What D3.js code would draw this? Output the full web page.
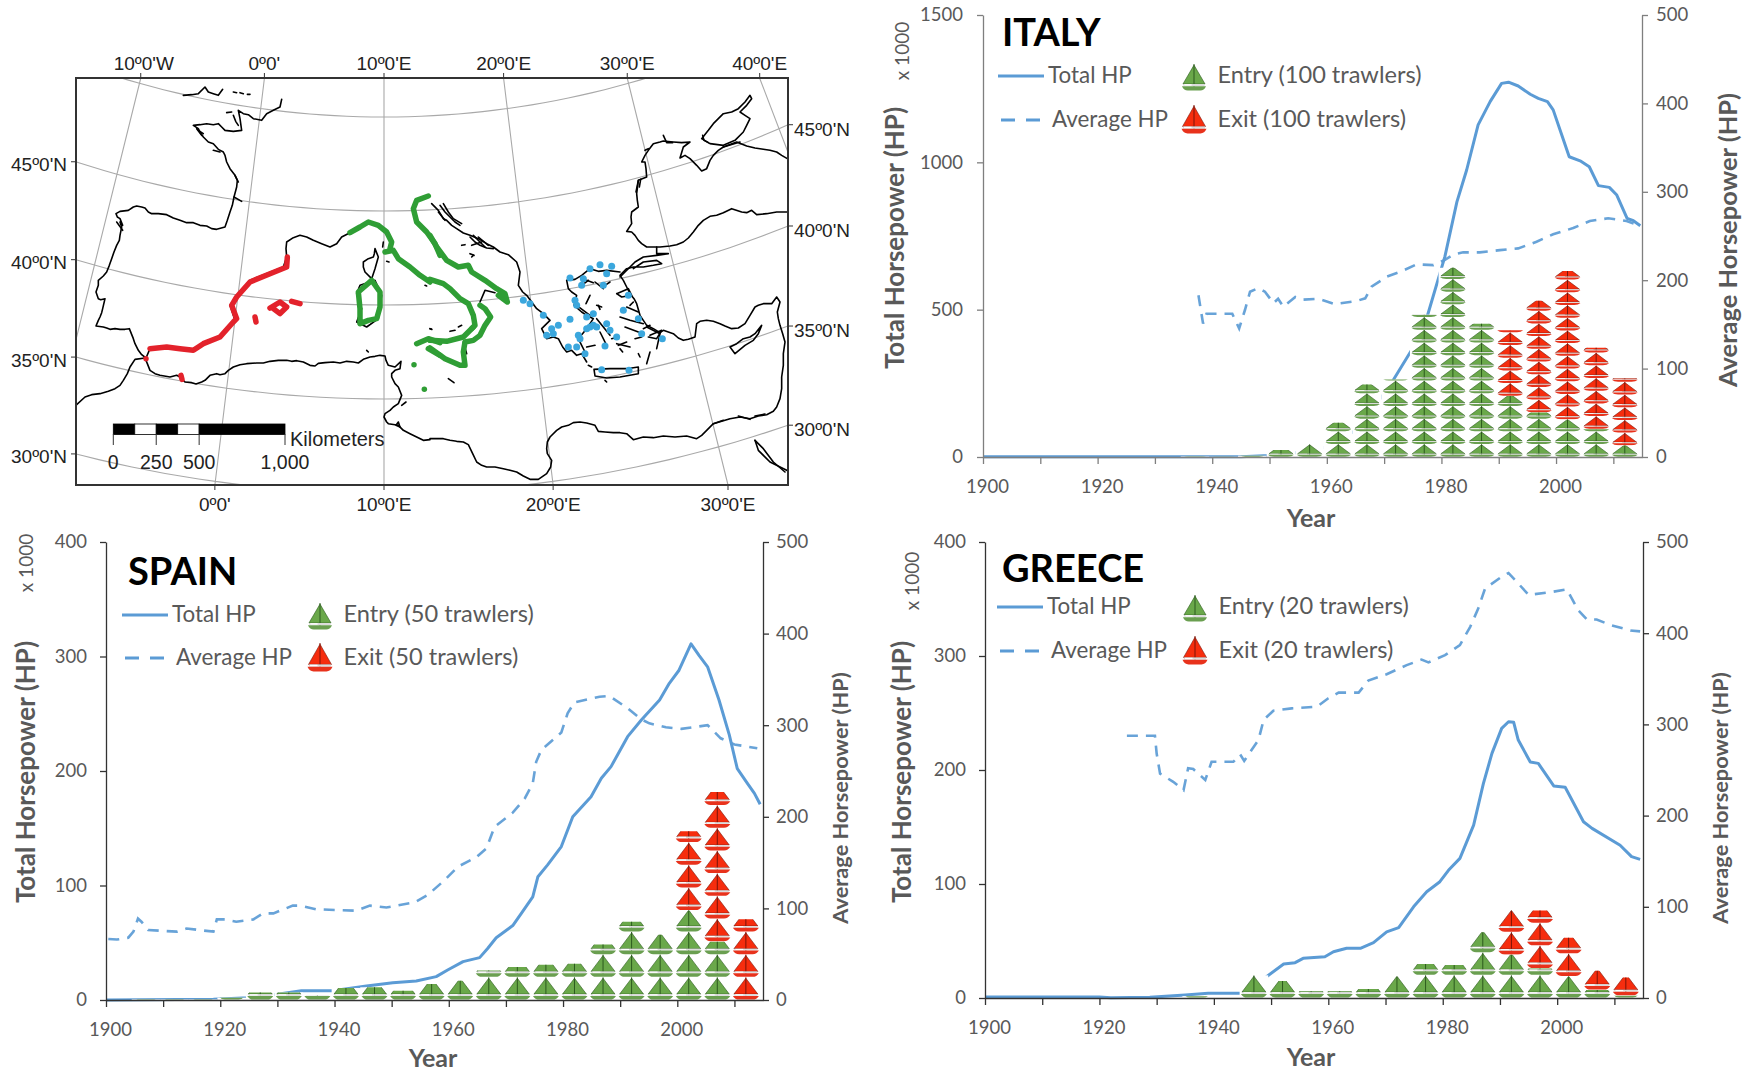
<!DOCTYPE html>
<html><head><meta charset="utf-8">
<script src="https://cdn.jsdelivr.net/npm/d3@7"></script>
<style>
html,body{margin:0;padding:0;background:#fff}
svg{display:block}
text{font-family:Lato,"Open Sans",sans-serif}
.map text{font-family:"Liberation Sans",Arial,sans-serif;fill:#222}
.ax text{fill:#595959;font-size:18.5px;font-family:Lato,sans-serif}
</style></head><body>
<svg id="s" width="1750" height="1075"></svg>
<script>
// ---------- chart data ----------
const binYears=[1907,1912,1917,1922,1927,1932,1937,1942,1947,1952,1957,1962,1967,1972,1977,1982,1987,1992,1997,2002,2007,2012];
const italyEntry=[0,0,0,0,0,0,.04,.02,.1,.55,1,2.7,5.7,6.1,11.2,14.9,10.5,4.8,3.5,2.95,2.2,.9];
const italyExit=[0,0,0,0,0,0,0,0,0,0,0,0,0,0,0,0,0,5.2,8.8,11.7,6.4,5.3];
const spainEntry=[.03,.03,.03,.1,.33,.33,.2,.53,.56,.41,.7,.85,1.3,1.45,1.55,1.6,2.45,3.45,2.87,3.94,2.57,0];
const spainExit=[0,0,0,0,0,0,0,0,0,0,0,0,0,0,0,0,0,0,0,3.49,6.59,3.56];
const greeceEntry=[0,0,0,0,0,0,.08,0,1,.75,.3,.3,.4,.95,1.5,1.45,2.9,1.9,1.3,.95,.35,.1];
const greeceExit=[0,0,0,0,0,0,0,0,0,0,0,0,0,0,0,0,0,1.95,2.55,1.7,.85,.8];

const italyTotal=[[1900,1],[1940,1],[1945,1],[1950,5],[1955,15],[1960,35],[1965,90],[1970,215],[1971.6,261],[1974.8,363],[1977.5,476],[1980.6,680],[1982.7,866],[1984.4,974],[1986.4,1127],[1988.5,1206],[1990.5,1268],[1991.7,1272],[1993.4,1259],[1995.5,1231],[1996.9,1217],[1998.5,1206],[1999.5,1178],[2001,1093],[2002.3,1019],[2004.2,1005],[2005.8,985],[2007.4,921],[2009.3,915],[2010.6,889],[2012.4,810],[2013.5,802],[2014.7,785]];
const italyAverage=[[1937.6,183],[1938.4,151],[1939,162],[1943.5,162],[1944.7,145.5],[1945.7,166],[1946.6,187],[1948,191],[1949.2,187],[1950.7,174],[1951.5,179],[1952.4,170],[1954.5,181],[1955.9,178],[1958.5,179],[1961.4,173],[1965.2,176.5],[1966.7,179.5],[1967.8,192.6],[1970.5,204],[1973,210],[1975.7,218],[1978.6,217],[1980.6,223],[1982.1,229],[1983.8,231.5],[1986.7,231.5],[1990.2,234],[1993.4,236],[1996.6,243.5],[1999.5,252],[2003,259],[2005.9,267],[2009.1,270],[2012.3,267],[2014.7,261.6]];
const spainTotal=[[1900,0],[1918.8,.6],[1925,2],[1930,5],[1934.2,8.1],[1939.7,8.1],[1945.6,12.2],[1950.2,15.1],[1954.3,16.6],[1957.8,20.4],[1959.8,26.2],[1962.5,33.5],[1965.4,37],[1966.8,45],[1968.3,54.4],[1971.2,65],[1972.7,75.7],[1974.7,90],[1975.6,107.7],[1977.3,118],[1979.7,134],[1981.7,160],[1984.9,177.6],[1986.7,193.6],[1988.4,203.8],[1991.3,230],[1993.7,244.6],[1996.9,262],[1998.6,276.6],[2000.3,288],[2002.4,311],[2003.8,301],[2005.3,291],[2007.3,262],[2009.1,231.5],[2010.5,202],[2012.3,189],[2013.5,180.5],[2014.5,171]];
const spainAverage=[[1900.4,66.6],[1901.9,66],[1903.9,68],[1904.8,74.6],[1905.6,89],[1906.2,85.5],[1907.4,76.4],[1912.4,74.6],[1914.1,78],[1918.8,74.6],[1919.4,88],[1920.8,88],[1922.8,85.5],[1925.8,88],[1927.5,94.6],[1929.3,94.6],[1932.7,103],[1933.9,103],[1936.8,99],[1943.8,97.5],[1946.2,103],[1949.1,101],[1954,106.6],[1956.3,114.6],[1959.3,131],[1961.6,145.5],[1964.8,155.8],[1966.6,165.6],[1968,189],[1971.2,204.5],[1973.3,220],[1974.7,236.6],[1975.3,260],[1976.2,273],[1979.7,292],[1980.8,313],[1982,325],[1986.4,331],[1988.1,332],[1991.3,318.5],[1993.7,306.4],[1995.1,302],[1998,297.7],[2000.7,296],[2005.3,300],[2007.6,285.7],[2010,279],[2014,274.8]];
const greeceTotal=[[1900,.8],[1920,.8],[1922,.2],[1928.8,.6],[1935,2.6],[1939,4.1],[1945.2,4.1],[1949.2,18.7],[1952.2,29.8],[1954.2,31],[1955.6,34.8],[1959.4,36.2],[1960.9,40.6],[1963.2,43.6],[1965.6,43.6],[1967.9,48.5],[1970.2,58],[1972.3,61.7],[1974.9,80],[1977.2,93.2],[1979.5,102],[1981,112],[1983,122.5],[1985.4,151.7],[1987.1,188],[1988.6,214.6],[1990.3,236.5],[1991.5,242.3],[1992.4,241.8],[1993.2,226.3],[1995.3,207],[1996.7,205.8],[1999.4,186],[2001.4,184.8],[2004.6,154.6],[2006.1,148.8],[2011,134],[2013,124],[2014.5,121.6]];
const greeceAverage=[[1924.8,287.6],[1929.7,287.6],[1930,268],[1930.6,246],[1932.9,237],[1934.7,228],[1935.5,252],[1936.4,251],[1938.5,239],[1939.6,259],[1943.4,259],[1944.6,267],[1945.3,260],[1947.8,283],[1948.7,305],[1950.4,315],[1953.6,317.6],[1958,319.4],[1960,328.6],[1961.8,334.8],[1965.3,334.8],[1967,348],[1970.2,355],[1973.7,365],[1976.3,371],[1977.5,368],[1980.4,376],[1983,387],[1984.8,407],[1986.2,427],[1987.4,449],[1990.3,462],[1991.5,466],[1992.7,458],[1995,442],[1998.8,445],[2001.7,448],[2003.7,425],[2005.2,415],[2006.9,415],[2009.3,409],[2012.8,403],[2014.5,402]];

const yearTicks=[1900,1910,1920,1930,1940,1950,1960,1970,1980,1990,2000,2010];
const italyLeftTicks=[0,500,1000,1500], otherLeftTicks=[0,100,200,300,400], rightTicks=[0,100,200,300,400,500];

// ---------- map data (map grid; west sheet / east sheet) ----------
const coastWest=[
 [[20,998],[45,975],[65,968],[90,965],[115,958],[135,950],[150,940],[160,925],[172,905],[180,885],[195,862],[225,858],[232,875],[240,895],[255,905],[270,910],[300,915],[320,910],[330,915],[345,930],[365,932],[378,936],[395,930],[405,925],[420,910],[440,905],[450,908],[465,905],[475,895],[490,885],[510,878],[530,875],[560,873],[580,873],[600,868],[625,865],[650,865],[665,868],[680,866],[700,870],[720,880],[735,882],[745,874],[765,872],[790,870],[810,873],[830,868],[850,870],[865,873],[880,862],[900,855],[915,853],[930,850],[945,852],[948,865],[955,880],[975,885],[993,868],[990,890],[975,895],[965,905],[965,915],[975,935],[985,945],[995,970],[985,995],[970,1005],[960,1015],[945,1025],[942,1035],[950,1050],[955,1055],[985,1060],[1000,1075],[1020,1085],[1040,1095],[1060,1105],[1080,1103]],
 [[228,858],[215,848],[205,835],[195,815],[190,800],[178,770],[165,772],[150,772],[135,770],[120,772],[110,768],[100,765],[78,762],[85,745],[90,735],[95,722],[98,710],[105,680],[92,683],[85,680],[78,660],[85,640],[85,625],[100,612],[110,600],[118,580],[125,560],[132,540],[140,520],[148,505],[150,490],[155,465],[150,450],[158,460],[150,440],[142,435],[138,425],[150,418],[175,415],[190,405],[200,402],[215,405],[225,408],[235,420],[245,425],[265,425],[290,428],[310,438],[330,445],[350,452],[370,452],[390,460],[410,462],[425,470],[440,472],[465,465],[472,445],[480,420],[487,400],[492,375],[500,345],[502,325],[495,310],[480,290],[470,270],[465,250],[460,240],[445,232],[430,215],[415,210],[400,195],[390,180],[385,170],[370,160],[390,158],[410,155],[430,158],[445,155],[455,165],[465,175],[490,178],[515,175],[510,140],[505,115],[520,125],[535,128],[550,140],[575,145],[590,125],[610,115],[630,105],[635,82]],
 [[492,375],[515,388]],
 [[340,70],[365,68],[385,65],[405,45],[415,60],[430,65],[445,70],[458,52]],
 [[490,60],[500,62]],[[510,62],[520,65]],[[532,67],[540,67]],
 [[470,122],[485,120]],[[490,130],[497,148],[505,160]],[[385,175],[400,185]],[[430,235],[450,240]],[[380,170],[395,190]],[[495,310],[505,330]],[[140,450],[158,475]],
 [[228,858],[240,830],[290,825],[370,835],[400,815],[450,795],[495,745],[480,700],[500,670],[540,625],[640,585],[650,555],[648,530],[650,510],[670,497],[690,490],[710,495],[730,505],[755,515],[780,525],[800,515],[815,495],[840,482]],
 [[915,530],[913,545],[910,555],[895,560],[880,570],[880,585],[885,600],[905,620],[915,590],[925,555],[915,530]],
 [[870,640],[860,665],[875,710],[860,750],[890,765],[925,740],[935,670],[915,625],[870,640]],
 [[985,1050],[978,1060],[990,1065],[985,1050]],[[995,1000],[1008,990]],
 [[890,835],[895,840]],[[1080,770],[1085,772]],[[940,510],[938,525]],[[950,568],[957,570]],[[1065,640],[1070,642]]
];
const coastEast=[
 [[0,1100],[40,1100],[60,1105],[80,1108],[100,1110],[115,1118],[128,1145],[140,1170],[155,1180],[170,1185],[195,1185],[220,1190],[240,1195],[260,1200],[280,1212],[300,1222],[325,1222],[350,1205],[362,1185],[365,1165],[352,1145],[350,1130],[352,1110],[360,1095],[380,1075],[395,1065],[415,1060],[430,1052],[450,1050],[470,1053],[495,1060],[505,1078],[525,1080],[550,1082],[570,1082],[590,1085],[610,1103],[640,1095],[670,1097],[700,1092],[735,1095],[770,1092],[800,1100],[815,1090],[830,1075],[850,1055],[875,1048],[900,1040],[930,1035],[960,1040],[985,1032],[1010,1028],[1030,1018],[1040,1005],[1050,980],[1055,950],[1055,915],[1060,880],[1060,845],[1065,810],[1058,785],[1050,760],[1045,740],[1042,720],[1050,690],[1040,675],[1025,695],[1000,695],[985,700],[975,705],[960,730],[945,755],[925,768],[905,770],[885,762],[870,755],[850,748],[830,745],[810,748],[800,755],[795,795],[775,802],[760,805],[745,798],[730,785],[700,775],[690,782],[670,770],[650,760],[640,745],[630,730],[620,695],[612,680],[600,665],[590,645],[580,625],[570,610],[590,590],[610,585],[640,585],[670,580],[695,575],[680,565],[640,570],[610,590]],
 [[570,615],[585,600],[615,570],[640,555],[680,550],[715,545],[680,545],[680,525]],
 [[1072,420],[1040,420],[1010,425],[980,428],[965,415],[950,422],[935,420],[905,410],[880,422],[860,430],[840,433],[820,445],[805,460],[790,480],[775,498],[760,510],[740,518],[720,522],[690,525],[650,525],[635,515],[625,505],[615,490],[605,480],[590,478],[605,455],[603,435],[605,420],[625,405],[622,385],[620,365],[625,325],[650,315],[648,290],[645,270],[635,270],[645,250],[655,235],[670,215],[690,210],[700,207],[730,210],[755,212],[780,210],[760,225],[750,258],[765,250],[780,260],[800,280],[815,297],[830,290],[840,265],[850,250],[865,235],[880,225],[920,210],[950,222],[975,228],[1000,232],[1020,235],[1040,240],[1055,250],[1072,260]],
 [[815,200],[835,175],[850,155],[865,140],[880,125],[905,120],[925,110],[945,90],[960,70],[965,80],[950,100],[930,120],[945,130],[960,140],[950,160],[940,180],[915,205],[880,220],[840,215],[815,200]],
 [[818,190],[822,205],[835,212]],[[700,190],[710,212],[728,212]],[[625,325],[618,360]],[[632,322],[628,345]],[[930,210],[880,225]],[[645,235],[655,230]],
 [[975,1105],[985,1135],[1020,1170],[1070,1195]],[[975,1105],[1000,1130],[1030,1170],[1065,1200]],
 [[900,825],[920,815],[940,800],[960,795],[975,785],[995,760],[985,785],[970,805],[945,820],[915,845],[900,825]],
 [[492,892],[495,912],[530,918],[570,915],[625,905],[625,885],[590,890],[540,890],[492,892]],
 [[850,1055],[880,1045]],[[925,1032],[960,1042]],[[975,1032],[1005,1026]],
 [[5,395],[25,415],[40,440],[50,445],[65,460],[80,470],[100,483],[120,490],[145,500],[170,515],[190,525],[210,540],[235,548],[260,570],[270,600],[265,640],[278,660],[290,670],[305,690],[320,710],[340,725],[360,745],[335,770],[350,800],[370,795],[385,800],[398,825],[410,840],[425,835],[440,850],[455,845],[470,870]],
 [[30,400],[45,420],[60,435],[75,450],[90,460]],[[40,395],[55,420],[70,440],[95,455]],[[25,420],[45,445]],[[120,495],[135,510],[150,520],[170,528],[190,530]],[[130,490],[150,510],[165,525]],[[145,495],[175,520]],
 [[465,840],[455,820],[445,800],[470,770],[490,740],[470,730],[455,720],[432,700],[440,670],[425,660],[415,650],[410,625],[435,622],[455,610],[480,590],[505,598],[530,595],[570,600]],
 [[470,625],[490,632]],[[455,640],[475,625]],[[480,670],[468,695]],[[500,700],[515,705]],[[560,665],[595,650],[605,670],[575,675],[560,665]],[[590,705],[625,720]],[[600,700],[610,690]],[[570,735],[600,745],[640,755]],[[510,780],[530,820]],[[650,765],[690,785],[680,830]],[[660,790],[695,775],[680,800],[655,795]],[[560,815],[600,825]],[[625,845],[630,855]],[[660,840],[650,875]],[[525,925],[530,930]],[[475,880],[485,885]],[[495,630],[520,650]],[[440,700],[480,730]],[[500,740],[540,790]],[[585,765],[625,780]],[[525,640],[540,630]],[[565,820],[590,810]],[[470,825],[495,820]],[[570,830],[578,840]],[[615,800],[635,795]],[[640,770],[660,760]],[[545,800],[565,795]],[[505,700],[510,712]],
 [[150,690],[165,655],[195,662]],[[100,810],[110,845]],[[55,920],[72,932]],
 [[95,520],[105,518]],[[125,520],[155,510]],[[120,545],[132,550]],[[60,778],[75,775]],[[85,765],[95,760]],[[0,770],[5,772]],[[125,555],[130,550]]
];
const greenWest=[
 [[840,482],[870,465],[895,450],[925,460],[950,480],[965,510],[960,530]],
 [[945,540],[970,535],[985,560],[1020,585],[1050,610],[1080,630]],
 [[905,625],[930,660],[930,705],[920,740],[895,745],[870,755],[870,710],[865,660],[905,625]],
 [[1075,372],[1040,385],[1030,410],[1040,450],[1070,480],[1095,515],[1110,550]],
 [[1040,815],[1075,800],[1110,812]],[[1075,830],[1110,850]],
 [[1032,878],[1032,878]],[[1063,952],[1063,952]]
];
const greenEast=[
 [[0,490],[20,525],[50,565],[85,585],[115,580],[125,600],[165,625],[200,650],[225,665],[232,690],[205,670]],
 [[0,622],[40,635],[60,650],[90,680],[115,695],[130,730],[135,760],[125,770]],
 [[150,700],[165,710],[182,735],[165,760],[150,790],[130,805],[105,810],[100,840],[105,880],[90,880],[45,860],[0,828]],
 [[0,805],[50,808],[100,795],[130,765]]
];
const redWest=[
 [[240,830],[290,825],[330,830],[370,835],[400,815],[450,795],[490,750],[500,740],[485,700],[500,675],[540,630],[600,605],[650,585],[652,555]],
 [[600,708],[630,690],[650,705],[630,725],[610,710]],[[665,688],[690,695]],[[555,735],[558,750]],
 [[228,860],[228,860]],[[333,910],[336,922]]
];
const blueEast=[[280,685],[300,695],[340,730],[365,770],[350,790],[385,760],[420,742],[415,825],[440,825],[465,845],[445,790],[470,770],[490,760],[450,800],[470,735],[490,725],[435,685],[420,618],[460,620],[480,590],[510,578],[545,583],[530,605],[520,640],[595,670],[580,715],[625,740],[635,785],[560,795],[540,775],[530,755],[525,822],[697,800],[515,893],[597,895],[480,765],[500,765],[455,640],[440,700],[370,785]];
const meridianTop=[-10,0,10,20,30,40], meridianBottom=[0,10,20,30], parallelLabels=[45,40,35,30];
const scaleBarKm=[0,125,250,375,500,1000], scaleBarTicks=[0,250,500,1000], scaleBarLabels=["0","250","500","1,000"];

// ---------- map ----------
const svg=d3.select("#s");
const defs=svg.append("defs");
const frame={x0:76,y0:78,x1:788,y1:485};
const mapG=svg.append("g").attr("class","map");
const n=.738,G=1.8207,rho0=1.035,kx=.94;
const raw=(l,p)=>{const r=G-p,a=n*l;return [kx*r*Math.sin(a),rho0-r*Math.cos(a)];};
const proj=d3.geoProjection(raw).rotate([-10,0]).center([0,45]).scale(1077).translate([384,211]).precision(.3);
const projClip=d3.geoProjection(raw).rotate([-10,0]).center([0,45]).scale(1077).translate([384,211]).precision(.3)
   .clipExtent([[frame.x0,frame.y0],[frame.x1,frame.y1]]);
mapG.append("path").datum(d3.geoGraticule().extent([[-40,20],[70.01,60.01]]).step([10,5]).precision(1)())
  .attr("d",d3.geoPath(projClip)).attr("fill","none").attr("stroke","#a9a9a9").attr("stroke-width",1.1);

const mx1=d3.scaleLinear([0,1110],[70,440]), mx2=d3.scaleLinear([0,1110],[430,800]), my=d3.scaleLinear([0,1260],[72,492]);
const lineW=d3.line(d=>mx1(d[0]),d=>my(d[1])), lineE=d3.line(d=>mx2(d[0]),d=>my(d[1]));
const polys=(data,gen,color,w)=>mapG.append("g").selectAll("path").data(data).join("path").attr("d",gen)
   .attr("fill","none").attr("stroke",color).attr("stroke-width",w).attr("stroke-linecap","round").attr("stroke-linejoin","round");
polys(coastWest,lineW,"#000",1.6); polys(coastEast,lineE,"#000",1.6);
polys(greenWest,lineW,"#2f9e35",5.5); polys(greenEast,lineE,"#2f9e35",5.5);
polys(redWest,lineW,"#e3222b",5.5);
mapG.append("g").selectAll("circle").data(blueEast).join("circle").attr("cx",d=>mx2(d[0])).attr("cy",d=>my(d[1])).attr("r",3.5).attr("fill","#3ba7dd");
mapG.append("rect").attr("x",frame.x0).attr("y",frame.y0).attr("width",frame.x1-frame.x0).attr("height",frame.y1-frame.y0)
  .attr("fill","none").attr("stroke","#333").attr("stroke-width",2);

// graticule labels sit where the lines meet the frame
const crossLat=(lon,test)=>{for(let la=70;la>10;la-=.02){const p=proj([lon,la]);if(test(p))return p;}return null;};
const crossLon=(lat,from,to,test)=>{const st=from<to?.02:-.02;for(let lo=from;st>0?lo<to:lo>to;lo+=st){const p=proj([lo,lat]);if(test(p))return p;}return null;};
const lonLabel=d=>d===0?"0º0'":Math.abs(d)+"º0'"+(d<0?"W":"E"), latLabel=d=>d+"º0'N";
const tick=(x1,y1,x2,y2)=>mapG.append("line").attr("x1",x1).attr("y1",y1).attr("x2",x2).attr("y2",y2).attr("stroke","#333").attr("stroke-width",1);
const mt=(x,y,t,a,dx=0)=>mapG.append("text").attr("x",x+dx).attr("y",y).attr("text-anchor",a).attr("font-size",19).text(t);
meridianTop.forEach(d=>{const p=crossLat(d,p=>p[1]>=frame.y0);tick(p[0],frame.y0,p[0],frame.y0-5);mt(p[0],70,lonLabel(d),"middle",d<0?3:0);});
meridianBottom.forEach(d=>{const p=crossLat(d,p=>p[1]>=frame.y1);tick(p[0],frame.y1,p[0],frame.y1+5);mt(p[0],511,lonLabel(d),"middle");});
parallelLabels.forEach(d=>{
  const l=crossLon(d,10,-60,p=>p[0]<=frame.x0), r=crossLon(d,10,60,p=>p[0]>=frame.x1);
  tick(frame.x0,l[1],frame.x0-5,l[1]); mt(67,l[1]+9.5,latLabel(d),"end");
  tick(frame.x1,r[1],frame.x1+5,r[1]); mt(794,r[1]+11,latLabel(d),"start");
});
// scale bar
const km=d3.scaleLinear([0,1000],[113.3,285]);
d3.pairs(scaleBarKm).forEach(([a,b],i)=>mapG.append("rect").attr("x",km(a)).attr("y",424).attr("width",km(b)-km(a)).attr("height",10.5)
   .attr("fill",i%2?"#fff":"#000").attr("stroke","#000").attr("stroke-width",.8));
scaleBarTicks.forEach((d,i)=>{tick(km(d),434,km(d),445);
  mapG.append("text").attr("x",km(d)).attr("y",469).attr("text-anchor","middle").attr("font-size",19.5).text(scaleBarLabels[i]);});
mapG.append("text").attr("x",290).attr("y",446).attr("font-size",20).text("Kilometers");

// ---------- boats ----------
function boatDef(id,fill,dark,hull){
  const g=defs.append("g").attr("id",id);
  const ve=s=>s.attr("vector-effect","non-scaling-stroke");
  ve(g.append("path").attr("d","M0,.04L-.46,.74L.46,.74Z").attr("fill",fill).attr("stroke",dark).attr("stroke-width",.6));
  ve(g.append("path").attr("d","M0,0L0,.84").attr("stroke",dark).attr("stroke-width",1).attr("fill","none"));
  g.append("rect").attr("x",-.44).attr("y",.74).attr("width",.88).attr("height",.08).attr("fill","#dcdcdc");
  g.append("rect").attr("x",-.4).attr("y",.75).attr("width",.3).attr("height",.05).attr("fill","#fff");
  g.append("path").attr("d","M-.5,.82L.5,.82Q.42,.98 .26,.98L-.26,.98Q-.42,.98 -.5,.82Z").attr("fill",hull);
}
boatDef("boat-entry","#6aa84a","#2c5a1e","#6a9f50");
boatDef("boat-exit","#f62d0e","#7a1408","#e8321c");
let clipId=0;
function stack(g,cx,baseY,count,unit,w,kind){
  if(count<=0)return;
  const id="c"+(clipId++);
  defs.append("clipPath").attr("id",id).append("rect").attr("x",cx-w).attr("y",baseY-count*unit).attr("width",2*w).attr("height",count*unit);
  const h=g.append("g").attr("clip-path","url(#"+id+")");
  d3.range(Math.ceil(count)).forEach(i=>h.append("use").attr("href","#"+kind)
     .attr("transform","translate("+cx+","+(baseY-(i+1)*unit)+") scale("+w+","+unit+")"));
}

// ---------- charts ----------
const blue="#5b9bd5", ink="#595959";
function chart(c){
  const x=d3.scaleLinear([1900,2015],[c.x0,c.x1]);
  const yL=d3.scaleLinear([0,c.leftMax],[c.y0,c.y1]), yR=d3.scaleLinear([0,500],[c.y0,c.y1]);
  const g=svg.append("g");
  const lineL=d3.line(d=>x(d[0]),d=>yL(d[1])), lineR=d3.line(d=>x(d[0]),d=>yR(d[1]));
  g.append("path").attr("d",lineL(c.total)).attr("fill","none").attr("stroke",blue).attr("stroke-width",3).attr("stroke-linejoin","round");
  g.append("path").attr("d",lineR(c.avg)).attr("fill","none").attr("stroke",blue).attr("stroke-opacity",.92).attr("stroke-width",2.6).attr("stroke-dasharray","11,8");
  // stacks of boats, opaque like the pictures they copy
  const bars=g.append("g");
  binYears.forEach((yr,i)=>{
    const e=c.entry[i],ex=c.exit[i],cx=x(yr);
    if(e+ex<=0)return;
    bars.append("rect").attr("x",cx-14.3).attr("y",c.y0-(e+ex)*c.unit).attr("width",28.6).attr("height",(e+ex)*c.unit).attr("fill","#fff");
    stack(bars,cx,c.y0,e,c.unit,26,"boat-entry");
    stack(bars,cx,c.y0-e*c.unit,ex,c.unit,26,"boat-exit");
  });
  // axes
  const ax=(sel)=>{sel.attr("class","ax");sel.selectAll("path,line").attr("stroke",c.axis).attr("stroke-width",1.3);};
  g.append("g").attr("transform","translate(0,"+c.y0+")")
    .call(d3.axisBottom(x).tickValues(yearTicks).tickSize(7).tickSizeOuter(0).tickPadding(16).tickFormat(d=>d%20===0?d:""))
    .call(ax).selectAll("text").attr("dx",4);
  g.append("g").attr("transform","translate("+c.x0+",0)")
    .call(d3.axisLeft(yL).tickValues(c.leftTicks).tickFormat(d3.format("d")).tickSize(6).tickSizeOuter(0).tickPadding(c.padL)).call(ax);
  g.append("g").attr("transform","translate("+c.x1+",0)")
    .call(d3.axisRight(yR).tickValues(rightTicks).tickFormat(d3.format("d")).tickSize(6).tickSizeOuter(0).tickPadding(c.padR)).call(ax);
  const rot=(px,py,t,size,w)=>g.append("text").attr("transform","translate("+px+","+py+") rotate(-90)").attr("text-anchor","middle")
     .attr("fill",ink).attr("font-size",size).attr("font-weight",w).text(t);
  rot(c.totX,c.totY,"Total Horsepower (HP)",26,700);
  rot(c.avgX,c.avgY,"Average Horsepower (HP)",c.avgSize,700);
  rot(c.kX,c.kY,"x 1000",19,400);
  g.append("text").attr("x",c.yrX).attr("y",c.yrY).attr("text-anchor","middle").attr("fill",ink).attr("font-size",25).attr("font-weight",700).text("Year");
  g.append("text").attr("x",c.titleX).attr("y",c.titleY).attr("fill","#000").attr("font-size",38).attr("font-weight",700).text(c.title);
  // legend
  const L=c.leg;
  const lt=(px,py,t,s)=>g.append("text").attr("x",px).attr("y",py+7).attr("fill",ink).attr("font-size",s).text(t);
  g.append("line").attr("x1",L.lx0).attr("x2",L.lx0+46).attr("y1",L.y1).attr("y2",L.y1).attr("stroke",blue).attr("stroke-width",3);
  lt(L.lx0+50,L.y1,"Total HP",22.4);
  g.append("line").attr("x1",L.lx0+3).attr("x2",L.lx0+42).attr("y1",L.y2).attr("y2",L.y2).attr("stroke",blue).attr("stroke-width",3).attr("stroke-dasharray","14,11");
  lt(L.lx0+54,L.y2,"Average HP",22.4);
  g.append("use").attr("href","#boat-entry").attr("transform","translate("+L.bx+","+(L.y1-12)+") scale(24,27)");
  g.append("use").attr("href","#boat-exit").attr("transform","translate("+L.bx+","+(L.y2-15)+") scale(25,29)");
  lt(L.bx+23.5,L.y1,"Entry ("+c.n+" trawlers)",23.6);
  lt(L.bx+23.5,L.y2,"Exit ("+c.n+" trawlers)",23.6);
}
chart({title:"ITALY",titleX:1002,titleY:46,x0:983,x1:1642,y0:457,y1:15,leftMax:1500,leftTicks:italyLeftTicks,axis:"#7f7f7f",padL:14,padR:8,
  total:italyTotal,avg:italyAverage,entry:italyEntry,exit:italyExit,unit:12.7,n:100,
  totX:904,totY:238,avgX:1737,avgY:240,avgSize:25.5,kX:909,kY:51,yrX:1311,yrY:527,
  leg:{lx0:998,y1:76,y2:120,bx:1194}});
chart({title:"SPAIN",titleX:128,titleY:585,x0:106,x1:763,y0:1000,y1:542,leftMax:400,leftTicks:otherLeftTicks,axis:"#333",padL:13,padR:7,
  total:spainTotal,avg:spainAverage,entry:spainEntry,exit:spainExit,unit:22.7,n:50,
  totX:35,totY:772,avgX:848,avgY:798,avgSize:21.8,kX:33,kY:563,yrX:433,yrY:1067,
  leg:{lx0:122,y1:615,y2:658,bx:320}});
chart({title:"GREECE",titleX:1002,titleY:582,x0:985,x1:1643,y0:998,y1:542,leftMax:400,leftTicks:otherLeftTicks,axis:"#333",padL:13,padR:7,
  total:greeceTotal,avg:greeceAverage,entry:greeceEntry,exit:greeceExit,unit:22.7,n:20,
  totX:911,totY:772,avgX:1728,avgY:798,avgSize:21.8,kX:919,kY:581,yrX:1311,yrY:1066,
  leg:{lx0:997,y1:607,y2:651,bx:1195}});
</script>
</body></html>
